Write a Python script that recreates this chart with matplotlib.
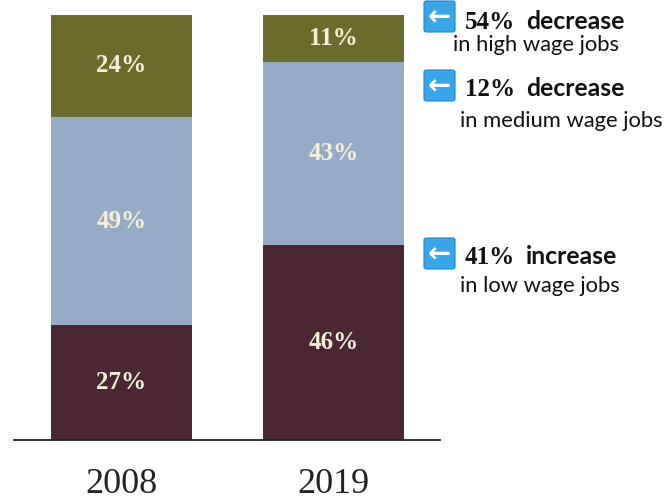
import numpy as np
import matplotlib
matplotlib.use("Agg")
from matplotlib import pyplot as plt
from matplotlib.patches import FancyBboxPatch

# --- data ---
years = ["2008", "2019"]
low_wage = [27, 46]
medium_wage = [49, 43]
high_wage = [24, 11]

notes_value = ["54%", "12%", "41%"]
notes_word = ["decrease", "decrease", "increase"]
notes_sub = ["in high wage jobs", "in medium wage jobs", "in low wage jobs"]

col_low = "#4a2733"
col_med = "#95abc6"
col_high = "#6b6b2b"
col_label = "#f4f0dc"

W, H = 668, 500
fig = plt.figure(figsize=(W / 100, H / 100), dpi=100)
fig.patch.set_facecolor("white")

# axes placed so the baseline sits at y=440px and 100% at y=15px
ax = fig.add_axes([14 / W, 60 / H, 426 / W, 425 / H])
x = np.arange(len(years))
width = 0.665

b1 = ax.bar(x, low_wage, width, color=col_low)
b2 = ax.bar(x, medium_wage, width, bottom=low_wage, color=col_med)
bottom2 = np.array(low_wage) + np.array(medium_wage)
b3 = ax.bar(x, high_wage, width, bottom=bottom2, color=col_high)

for bars, vals, bots in [(b1, low_wage, [0, 0]), (b2, medium_wage, low_wage), (b3, high_wage, bottom2)]:
    for i in range(len(vals)):
        ax.text(x[i], bots[i] + vals[i] / 2, str(vals[i]) + "%", ha="center", va="center",
                color=col_label, fontsize=18, fontweight="bold", family="Liberation Serif")

ax.set_xlim(-0.507, 1.502)
ax.set_ylim(0, 100)
for s in ["top", "right", "left"]:
    ax.spines[s].set_visible(False)
ax.spines["bottom"].set_color("#222222")
ax.spines["bottom"].set_linewidth(1.3)
ax.set_yticks([])
ax.set_xticks([])

# year labels under the bars
for i in range(len(years)):
    ax.text(x[i], -10.4, years[i], ha="center", va="center", fontsize=26,
            family="Liberation Serif", color="#222222", clip_on=False)

# -----------------------------------------------------------#
#              Notes on the right
# -----------------------------------------------------------#
icon_top = [1, 70, 238]
value_base = [29, 96, 264]
sub_base = [51, 127, 292]
sub_x = [453, 460, 460]

for k in range(3):
    fx = lambda px: px / W
    fy = lambda py: 1 - py / H
    icon = FancyBboxPatch((fx(424), fy(icon_top[k] + 31)), 31 / W, 31 / H,
                          boxstyle="round,pad=0,rounding_size=0.004",
                          transform=fig.transFigure, facecolor="#3aa6ea",
                          edgecolor="#1d86d0", linewidth=0.8)
    fig.patches.append(icon)
    fig.text(fx(439.5), fy(icon_top[k] + 16), "\u2190", ha="center", va="center",
             color="white", fontsize=20, fontweight="bold", family="DejaVu Sans")
    fig.text(fx(465), fy(value_base[k]), notes_value[k], ha="left", va="baseline",
             fontsize=18, fontweight="bold", family="Liberation Serif", color="#111111")
    fig.text(fx(526), fy(value_base[k]), notes_word[k], ha="left", va="baseline",
             fontsize=17.8, fontweight="bold", family="Lato", color="#111111")
    fig.text(fx(sub_x[k]), fy(sub_base[k]), notes_sub[k], ha="left", va="baseline",
             fontsize=15.8, family="Lato", color="#111111")

fig.savefig("out.png", dpi=100)
